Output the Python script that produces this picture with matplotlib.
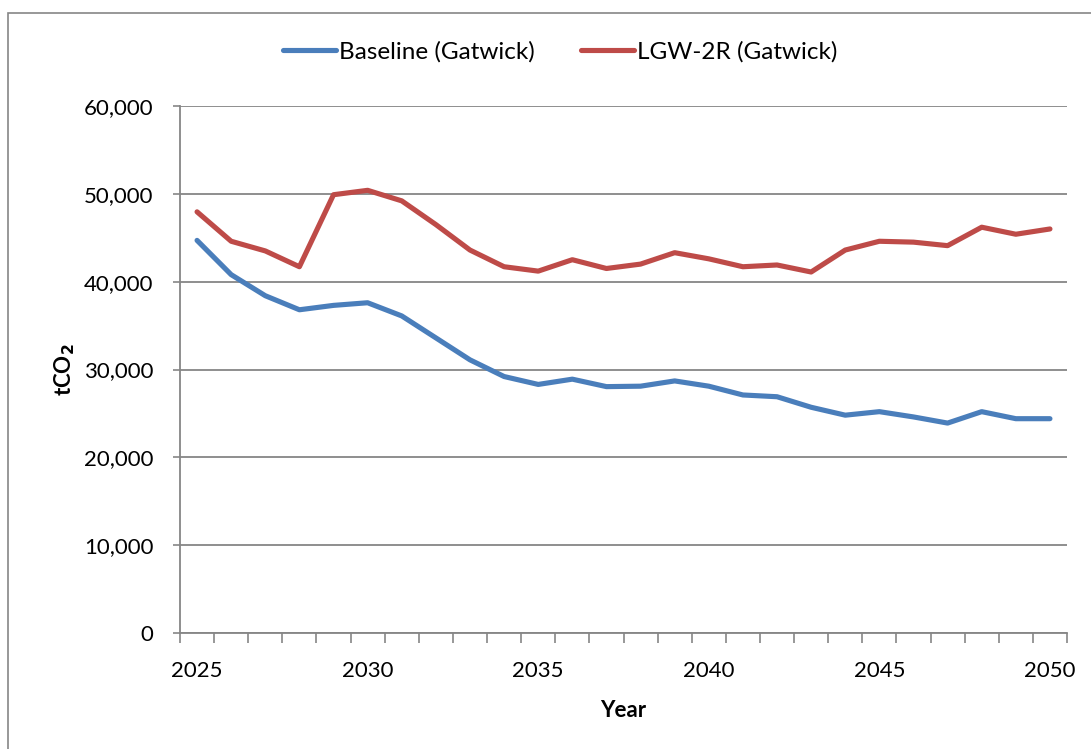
import matplotlib
matplotlib.use("Agg")
import matplotlib.pyplot as plt
from matplotlib.patches import Rectangle
import numpy as np

# Data
years = list(range(2025, 2051))
baseline = [44.7, 40.8, 38.4, 36.8, 37.3, 37.6, 36.1, 33.6, 31.1, 29.2,
            28.3, 28.9, 28.05, 28.1, 28.7, 28.1, 27.1, 26.9, 25.7, 24.8,
            25.2, 24.6, 23.9, 25.2, 24.4, 24.4]
lgw_2r = [47.95, 44.6, 43.5, 41.7, 49.9, 50.4, 49.2, 46.5, 43.6, 41.7,
          41.2, 42.5, 41.5, 42.0, 43.3, 42.6, 41.7, 41.9, 41.1, 43.6,
          44.6, 44.5, 44.1, 46.2, 45.4, 46.0]
baseline = [v * 1000 for v in baseline]
lgw_2r = [v * 1000 for v in lgw_2r]
yticks = [0, 10000, 20000, 30000, 40000, 50000, 60000]

plt.rcParams['font.family'] = ['Lato', 'DejaVu Sans']
grey = '#868686'

fig = plt.figure(figsize=(10.91, 7.49), dpi=100)
W, H = 1091, 749
ax = fig.add_axes([180 / W, 1 - 633 / H, (1067 - 180) / W, (633 - 106) / H])

x = np.arange(len(years))
ax.plot(x, baseline, color='#4A7EBB', lw=3.7, label='Baseline (Gatwick)',
        solid_capstyle='round', solid_joinstyle='round', zorder=3)
ax.plot(x, lgw_2r, color='#BE4B48', lw=3.7, label='LGW-2R (Gatwick)',
        solid_capstyle='round', solid_joinstyle='round', zorder=3)

# axes
ax.set_xlim(-0.5, len(years) - 0.5)
ax.set_ylim(0, 60000)
ax.set_yticks(yticks)
ax.set_yticklabels(['{:,}'.format(v) for v in yticks])
ax.yaxis.grid(True, color=grey, lw=1.3)
ax.set_axisbelow(True)

label_idx = [i for i, y in enumerate(years) if y % 5 == 0]
ax.set_xticks(label_idx)
ax.set_xticklabels([str(years[i]) for i in label_idx])
ax.set_xticks(np.arange(-0.5, len(years)), minor=True)
ax.tick_params(axis='x', which='major', length=0, pad=20, labelsize=16)
ax.tick_params(axis='x', which='minor', length=7, width=1.2, color=grey)
ax.tick_params(axis='y', length=5, width=1.2, color=grey, pad=14, labelsize=16)

for s in ['top', 'right']:
    ax.spines[s].set_visible(False)
for s in ['left', 'bottom']:
    ax.spines[s].set_color(grey)
    ax.spines[s].set_linewidth(1.3)

ax.set_xlabel('Year', fontsize=16, fontweight='bold', labelpad=14)
ax.set_ylabel('tCO$_\\mathbf{2}$', fontsize=16, fontweight='bold', labelpad=5)

ax.legend(loc='center', bbox_to_anchor=(560 / W, 1 - 52 / H),
          bbox_transform=fig.transFigure, ncol=2, frameon=False,
          fontsize=17.5, handlelength=2.2, handletextpad=0.1, columnspacing=1.9)

# chart border (cut off at right and bottom)
fig.patches.append(Rectangle((8 / W, -0.1), 1.2, 1 - 13 / H + 0.1,
                             transform=fig.transFigure, fill=False,
                             edgecolor=grey, lw=1.2))

fig.savefig('out.png', dpi=100)
